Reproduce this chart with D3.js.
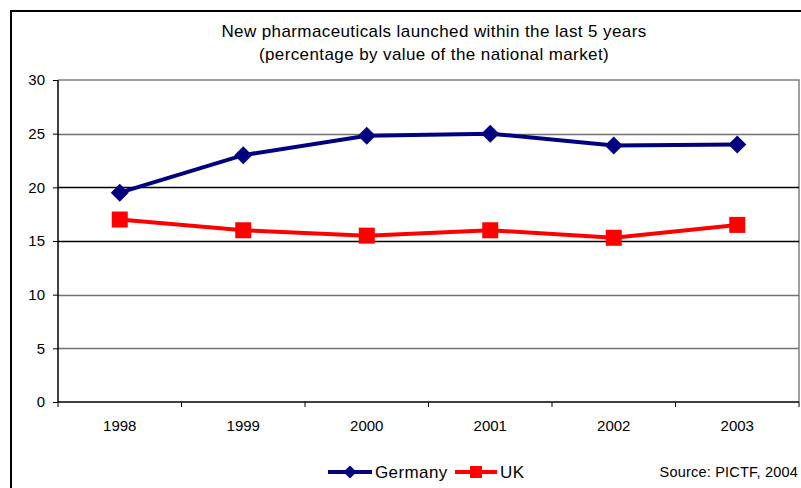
<!DOCTYPE html>
<html><head><meta charset="utf-8">
<script src="https://cdn.jsdelivr.net/npm/d3@7"></script>
<style>body{margin:0;background:#fff}svg{display:block}text{font-family:"Liberation Sans",Arial,sans-serif;fill:#000}</style>
</head><body><svg id="c" width="801" height="488"></svg>
<script>
const years = ["1998","1999","2000","2001","2002","2003"];
const germany = [19.5, 23.0, 24.8, 25.0, 23.9, 24.0];
const uk = [17.0, 16.0, 15.5, 16.0, 15.3, 16.5];
const yTicks = [0,5,10,15,20,25,30];
const titleLines = ["New pharmaceuticals launched within the last 5 years","(percentage by value of the national market)"];
const source = "Source: PICTF, 2004";

const svg = d3.select("#c");
// outer chart border
svg.append("rect").attr("x",11).attr("y",11).attr("width",820).attr("height",500)
  .attr("fill","none").attr("stroke","#000").attr("stroke-width",2);

const L=58, R=799, T=80, B=402;
const x = d3.scaleBand().domain(years).range([L,R]);
const y = d3.scaleLinear().domain([0,30]).range([B,T]);

// plot area border (top & right gray)
svg.append("path").attr("d",`M${L},${T}H${R}V${B}`).attr("fill","none").attr("stroke","#808080").attr("stroke-width",1.5);
// gridlines
svg.append("g").selectAll("line").data(yTicks.filter(d=>d>0&&d<30)).join("line")
  .attr("x1",L).attr("x2",R).attr("y1",d=>Math.round(y(d))+0.5).attr("y2",d=>Math.round(y(d))+0.5)
  .attr("stroke",d=>(d===15||d===20)?"#000":"#707070").attr("stroke-width",1.3);

// axes
const ya = svg.append("g").attr("transform",`translate(${L},0)`)
  .call(d3.axisLeft(y).tickValues(yTicks).tickSize(5).tickPadding(8));
const xa = svg.append("g").attr("transform",`translate(0,${B})`)
  .call(d3.axisBottom(x).tickSize(0).tickPadding(18));
xa.selectAll(".tick line").remove();
xa.append("g").selectAll("line").data(years.concat(["end"])).join("line")
  .attr("x1",(d,i)=>L+i*x.bandwidth()).attr("x2",(d,i)=>L+i*x.bandwidth())
  .attr("y1",0).attr("y2",5).attr("stroke","#000");
[ya,xa].forEach(a=>{a.selectAll("text").attr("font-size",15).attr("fill","#000");
  a.select(".domain").attr("stroke","#000").attr("stroke-width",1.5);
  a.selectAll(".tick line").attr("stroke","#000");});
ya.select(".domain").attr("d",`M0,${T}V${B}`);
xa.select(".domain").attr("d",`M${L},0H${R}`);

// title
svg.append("g").selectAll("text").data(titleLines).join("text")
  .attr("x",434).attr("y",(d,i)=>37+i*23).attr("text-anchor","middle").attr("font-size",17)
  .style("letter-spacing","0.4px").text(d=>d);

const cx = (d,i)=>x(years[i])+x.bandwidth()/2;
const line = d3.line().x(cx).y(d=>y(d));
const diamond = (s)=>`M0,${-s}L${s},0L0,${s}L${-s},0Z`;

svg.append("path").datum(germany).attr("d",line).attr("fill","none").attr("stroke","#000080").attr("stroke-width",4);
svg.append("g").selectAll("path").data(germany).join("path")
  .attr("transform",(d,i)=>`translate(${cx(d,i)},${y(d)})`).attr("d",diamond(9)).attr("fill","#000080");

svg.append("path").datum(uk).attr("d",line).attr("fill","none").attr("stroke","#ff0000").attr("stroke-width",4);
svg.append("g").selectAll("rect").data(uk).join("rect")
  .attr("x",(d,i)=>cx(d,i)-8).attr("y",d=>y(d)-8).attr("width",16).attr("height",16).attr("fill","#ff0000");

// legend
const ly = 472;
const lg = svg.append("g");
lg.append("line").attr("x1",328).attr("x2",372).attr("y1",ly).attr("y2",ly).attr("stroke","#000080").attr("stroke-width",4);
lg.append("path").attr("transform",`translate(350,${ly})`).attr("d",diamond(6.5)).attr("fill","#000080");
lg.append("text").attr("x",375).attr("y",ly+6).attr("font-size",17).style("letter-spacing","0.4px").text("Germany");
lg.append("line").attr("x1",455).attr("x2",497).attr("y1",ly).attr("y2",ly).attr("stroke","#ff0000").attr("stroke-width",4);
lg.append("rect").attr("x",470).attr("y",ly-6).attr("width",12).attr("height",12).attr("fill","#ff0000");
lg.append("text").attr("x",500).attr("y",ly+6).attr("font-size",17).style("letter-spacing","0.4px").text("UK");
svg.append("text").attr("x",798).attr("y",ly+5).attr("text-anchor","end").attr("font-size",14.5).style("letter-spacing","0.2px").text(source);
</script></body></html>
